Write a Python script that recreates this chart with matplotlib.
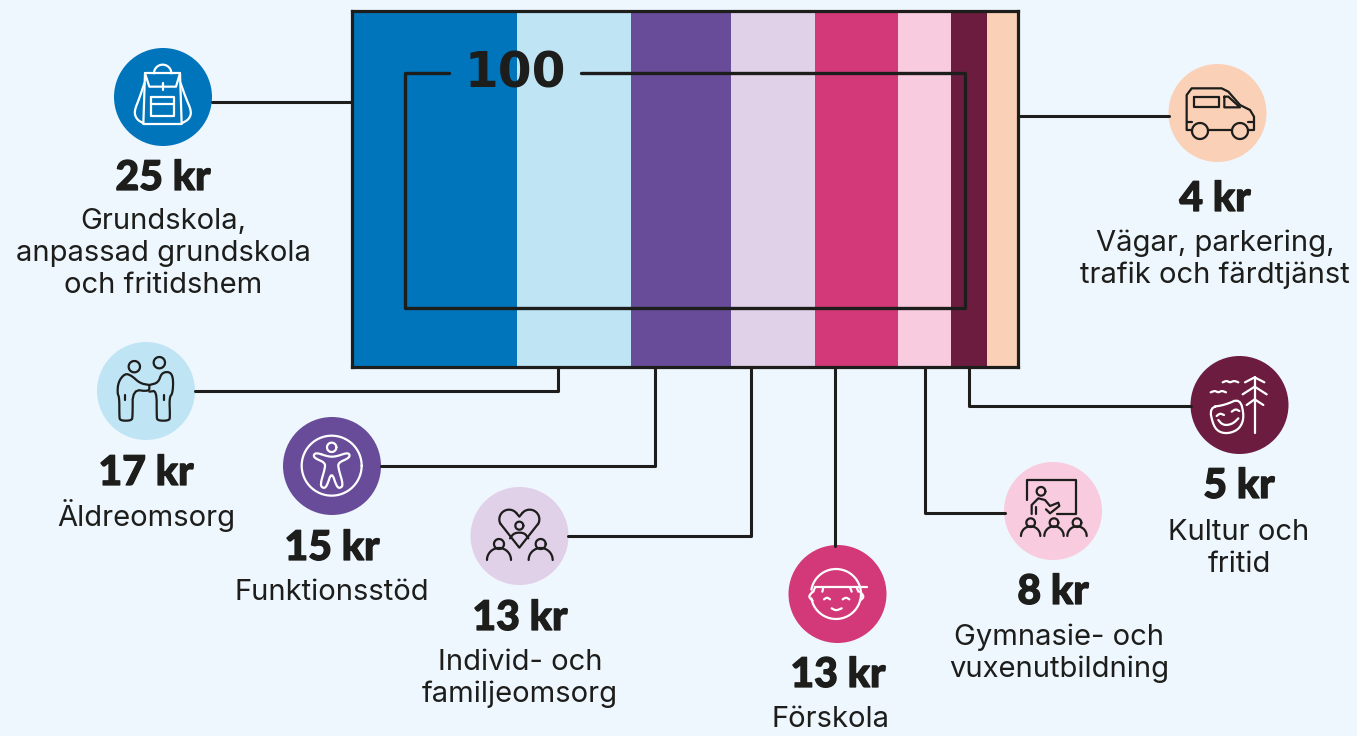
import matplotlib
matplotlib.use("Agg")
import matplotlib.pyplot as plt
from matplotlib.patches import Circle
import matplotlib.patheffects as pe
import numpy as np

# what is printed, in kr of 100
amounts = [25, 17, 15, 13, 13, 8, 5, 4]
# how wide each band is actually drawn
shares = [24.8, 17.1, 15.0, 12.7, 12.4, 8.0, 5.4, 4.6]
labels = [
    ["Grundskola,", "anpassad grundskola", "och fritidshem"],
    ["Äldreomsorg"],
    ["Funktionsstöd"],
    ["Individ- och", "familjeomsorg"],
    ["Förskola"],
    ["Gymnasie- och", "vuxenutbildning"],
    ["Kultur och", "fritid"],
    ["Vägar, parkering,", "trafik och färdtjänst"],
]
total_label = "100"

colors = ["#0075BC", "#BFE4F4", "#684C99", "#E0D1E8", "#D33878", "#F8CBDE", "#6C1D3F", "#FAD0B7"]
ink = "#1D1D1B"
bg = "#EEF7FE"

# layout in image pixels, y values of text are baselines
centers = [(163, 97), (146, 391), (332, 466), (519.5, 536), (837.5, 594), (1053, 511), (1239.5, 405), (1217.5, 113)]
amount_xy = [(163, 190), (146, 485), (332, 560), (520, 630), (838, 687), (1053, 604), (1239, 498), (1215, 211)]
label_xy = [(163, 229), (146, 526), (332, 600), (520, 670), (831, 727), (1059, 645), (1239, 540), (1215, 251)]
line_gap = 32
connectors = [
    [(212, 101.5), (351, 101.5)],
    [(195, 391), (558, 391), (558, 367)],
    [(381, 466), (655, 466), (655, 367)],
    [(568, 536), (751, 536), (751, 367)],
    [(835, 367), (835, 546)],
    [(925, 367), (925, 513), (1005, 513)],
    [(969, 367), (969, 406), (1191, 406)],
    [(1018, 116), (1169, 116)],
]

W, H = 1357, 736
fig = plt.figure(figsize=(W / 100, H / 100), dpi=100, facecolor=bg)

# the stacked band
bar_ax = fig.add_axes([351.5 / W, 1 - 366.5 / H, 666.5 / W, 355.5 / H], zorder=1)
left = 0
for s, c in zip(shares, colors):
    bar_ax.barh(0, s, left=left, height=1, color=c, linewidth=0)
    left += s
bar_ax.set_xlim(0, sum(shares))
bar_ax.set_ylim(-0.5, 0.5)
bar_ax.set_xticks([])
bar_ax.set_yticks([])
for sp in bar_ax.spines.values():
    sp.set_linewidth(2.3)
    sp.set_color(ink)

# overlay in pixel coordinates
ax = fig.add_axes([0, 0, 1, 1], zorder=2)
ax.set_xlim(0, W)
ax.set_ylim(H, 0)
ax.axis("off")
ax.patch.set_alpha(0)


def line(pts, col=ink, lw=1.6, close=False):
    pts = np.array(pts, dtype=float)
    if close:
        pts = np.vstack([pts, pts[:1]])
    ax.plot(pts[:, 0], pts[:, 1], color=col, lw=lw, solid_capstyle="round",
            solid_joinstyle="round", zorder=5)


# corner cutting, for the organic icon shapes
def soften(pts, close=False, n=2):
    pts = np.array(pts, dtype=float)
    for _ in range(n):
        if close:
            nxt = np.roll(pts, -1, axis=0)
            pts = np.c_[0.75 * pts + 0.25 * nxt, 0.25 * pts + 0.75 * nxt].reshape(-1, 2)
        else:
            a, b = pts[:-1], pts[1:]
            mid = np.c_[0.75 * a + 0.25 * b, 0.25 * a + 0.75 * b].reshape(-1, 2)
            pts = np.vstack([pts[:1], mid, pts[-1:]])
    return pts


def z(o, pts, col, close=False, soft=False):
    if soft:
        pts = soften(pts, close)
    line([(o[0] + p[0] / 3, o[1] + p[1] / 3) for p in pts], col, close=close)


def ring(o, c, r, col, a1=0, a2=360):
    t = np.radians(np.linspace(a1, a2, 60))
    line(np.c_[o[0] + (c[0] + r * np.cos(t)) / 3, o[1] + (c[1] + r * np.sin(t)) / 3], col)


for pts in connectors:
    line(pts, lw=2.2)

for (x, y), c in zip(centers, colors):
    ax.add_patch(Circle((x, y), 49, color=c, lw=0, zorder=4))

# backpack
o = (90, 40)
w = "white"
ring(o, (218, 100), 26, w, 180, 360)
z(o, [(165, 100), (270, 100)], w)
z(o, [(165, 100), (178, 140), (258, 140), (270, 100)], w)
z(o, [(218, 130), (218, 150)], w)
z(o, [(165, 100), (160, 252), (275, 252), (270, 100)], w)
z(o, [(183, 170), (252, 170), (252, 228), (183, 228)], w, close=True)
z(o, [(183, 192), (252, 192)], w)
z(o, [(163, 130), (148, 175), (132, 215), (140, 238), (160, 250)], w, soft=True)
z(o, [(272, 130), (288, 175), (305, 215), (297, 238), (275, 250)], w, soft=True)

# handshake
o = (90, 340)
ring(o, (133, 80), 17, ink)
ring(o, (208, 68), 17, ink)
z(o, [(178, 135), (150, 130), (125, 107), (105, 100), (85, 125), (82, 160), (88, 172), (88, 228),
      (90, 242), (125, 242), (128, 228), (128, 148), (178, 155), (178, 135)], ink, soft=True)
z(o, [(178, 135), (205, 128), (215, 98), (240, 95), (250, 115), (248, 160), (238, 172), (240, 228),
      (238, 242), (202, 242), (200, 228), (200, 152), (178, 155)], ink, soft=True)
z(o, [(106, 165), (106, 180)], ink)
z(o, [(222, 165), (222, 180)], ink)

# person in circle
ring(o, (725, 377), 90, w)
ring(o, (725, 322), 14, w)
z(o, [(680, 338), (715, 350), (737, 350), (772, 338), (780, 345), (775, 355), (745, 368), (745, 385),
      (760, 435), (750, 445), (740, 440), (725, 395), (710, 440), (700, 445), (690, 435), (705, 385),
      (705, 368), (675, 355), (670, 345)], w, close=True, soft=True)

# heart and people
o = (460, 480)
ring(o, (147, 118), 29, ink, 150, 320)
ring(o, (209, 118), 29, ink, 220, 390)
z(o, [(122, 132), (178, 203), (234, 132)], ink)
z(o, [(169, 99), (178, 110), (187, 99)], ink)
ring(o, (178, 137), 12, ink)
z(o, [(150, 175), (163, 158), (193, 158), (205, 175)], ink, soft=True)
ring(o, (117, 192), 15, ink)
ring(o, (242, 192), 15, ink)
ring(o, (117, 240), 36, ink, 180, 360)
ring(o, (242, 240), 36, ink, 180, 360)

# child with cap
ring(o, (1128, 342), 75, w, -170, 170)
z(o, [(1065, 320), (1220, 320)], w)
z(o, [(1058, 335), (1045, 350), (1058, 362)], w, soft=True)
z(o, [(1200, 335), (1213, 350), (1200, 362)], w, soft=True)
z(o, [(1092, 358), (1101, 352), (1110, 358)], w, soft=True)
z(o, [(1148, 358), (1158, 352), (1168, 358)], w, soft=True)
z(o, [(1115, 385), (1128, 392), (1145, 385)], w, soft=True)
for a, b in [(1065, 1060), (1090, 1087), (1170, 1175), (1190, 1195)]:
    z(o, [(a, 322), (b, 335)], w)

# classroom
o = (1000, 350)
z(o, [(82, 450), (82, 390), (227, 390), (227, 492), (170, 492)], ink)
ring(o, (123, 424), 13, ink)
z(o, [(95, 492), (95, 465), (115, 445), (135, 450), (150, 468), (175, 458), (178, 468), (150, 490), (138, 478)], ink)
z(o, [(108, 470), (108, 492)], ink)
for sx in [92, 162, 231]:
    ring(o, (sx, 518), 13, ink)
    ring(o, (sx, 558), 29, ink, 180, 360)

# mask and tree
z(o, [(628, 172), (675, 165), (720, 145), (733, 200), (720, 235), (690, 250), (660, 248), (640, 228)],
  w, close=True, soft=True)
z(o, [(650, 198), (660, 190), (672, 195)], w, soft=True)
z(o, [(695, 185), (707, 177), (718, 183)], w, soft=True)
z(o, [(655, 210), (665, 222), (680, 226), (700, 220), (715, 205)], w, soft=True)
z(o, [(764, 80), (764, 250)], w)
z(o, [(735, 97), (764, 82), (793, 97)], w)
z(o, [(728, 133), (764, 110), (800, 133)], w)
z(o, [(740, 165), (764, 148), (790, 165)], w)
z(o, [(632, 127), (645, 122), (655, 128), (665, 122), (678, 127)], w, soft=True)
z(o, [(668, 97), (680, 92), (690, 98), (702, 92), (715, 97)], w, soft=True)

# van
o = (1160, 60)
z(o, [(96, 210), (80, 210), (80, 105), (95, 85), (185, 85), (205, 95), (240, 135), (270, 150), (282, 170),
      (282, 210), (265, 210)], ink)
ring(o, (120, 213), 24, ink)
ring(o, (240, 213), 24, ink)
z(o, [(145, 210), (215, 210)], ink)
z(o, [(103, 110), (177, 110), (177, 142), (103, 142)], ink, close=True)
z(o, [(193, 110), (205, 110), (240, 142), (193, 142)], ink, close=True)
z(o, [(80, 185), (95, 185)], ink)
z(o, [(265, 185), (282, 185)], ink)

# frame inside the band with the total
line([(449, 73), (405, 73), (405, 308), (964.5, 308), (964.5, 73), (581, 73)], lw=2.4)
ax.text(515, 88, total_label, family="DejaVu Sans", weight="bold", fontsize=35, color=ink,
        ha="center", va="baseline", zorder=6)

heavy = [pe.withStroke(linewidth=0.9, foreground=ink)]
for amt, (tx, ty), lab, (lx, ly) in zip(amounts, amount_xy, labels, label_xy):
    ax.text(tx, ty, f"{amt} kr", family="Lato", weight="black", fontsize=29.5, color=ink,
            ha="center", va="baseline", zorder=6, path_effects=heavy)
    for i, s in enumerate(lab):
        ax.text(lx, ly + i * line_gap, s, family="Inter", fontsize=21, color=ink,
                ha="center", va="baseline", zorder=6)

fig.savefig("out.png", dpi=100, facecolor=bg)
